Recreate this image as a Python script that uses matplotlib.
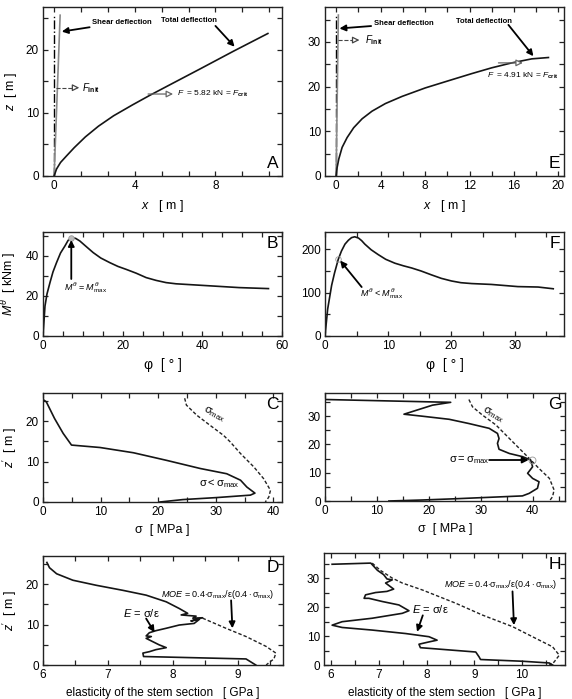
import matplotlib
matplotlib.use('Agg')
import matplotlib.pyplot as plt
from matplotlib.ticker import MultipleLocator

plt.rcParams['font.family'] = ['Liberation Sans', 'DejaVu Sans']
plt.rcParams['mathtext.fontset'] = 'custom'
plt.rcParams['mathtext.rm'] = 'Liberation Sans'
plt.rcParams['mathtext.it'] = 'Liberation Sans:italic'
plt.rcParams['mathtext.bf'] = 'Liberation Sans:bold'

# ---- data ----
# A: tree 1 deflection
A_x_total = [0, 0.12, 0.32, 0.62, 1.0, 1.55, 2.2, 2.95, 3.9, 4.75, 5.85, 7.25, 8.9, 10.6]
A_z_total = [0, 1.1, 2.15, 3.2, 4.5, 6.2, 7.9, 9.55, 11.3, 12.8, 14.65, 17.0, 19.8, 22.6]
A_x_shear = [0, 0.3]
A_z_shear = [0, 25.5]
A_x_init = [0, 0]
A_z_init = [0, 25.5]

# E: tree 2 deflection
E_x_total = [0, 0.09, 0.24, 0.54, 0.99, 1.58, 2.34, 3.23, 4.43, 5.93, 8.02, 10.1, 12.2, 14.0, 15.8, 17.6, 19.1]
E_z_total = [0, 1.9, 3.8, 6.4, 8.6, 10.8, 12.8, 14.5, 16.2, 17.8, 19.7, 21.3, 22.9, 24.2, 25.3, 26.2, 26.5]
E_x_shear = [0, 0.2]
E_z_shear = [0, 36]
E_x_init = [0, 0]
E_z_init = [0, 36]

# B, F: base moment vs. angle
B_phi = [0, 0.5, 1.0, 1.75, 2.5, 3.4, 4.4, 5.5, 6.3, 7.2, 8.2, 9.25, 10.8, 12.6, 14.5, 16.75,
         18.8, 20.9, 23.4, 25.9, 28.4, 30.9, 33.4, 35.9, 42.6, 49.25, 56.6]
B_M = [0, 15, 21, 26.7, 32, 36.7, 41.5, 45, 47.8, 49.2, 48.8, 47.5, 44.8, 41.7, 39, 36.7,
       34.8, 33.3, 31.4, 29.2, 27.8, 26.7, 26.1, 25.8, 25, 24.2, 23.7]
F_phi = [0, 0.42, 1.05, 1.5, 2.1, 2.6, 3.16, 3.7, 4.2, 4.7, 5.3, 5.8, 6.3, 7.3, 8.4, 9.6, 11.05,
         12.4, 13.7, 15.2, 16.85, 18.4, 20, 21.5, 23.2, 26.3, 30.5, 33.7, 36.1]
F_M = [0, 62, 117, 145, 177, 196, 212, 221, 227, 229, 226, 220, 212, 199, 188, 177, 168,
       162, 157, 150, 141, 133, 127, 123, 121, 119, 114, 113, 109]

# C, G: stress along the stem
C_sig = [0, 0.58, 2.0, 3.5, 4.95, 9.9, 15.7, 21.5, 27.3, 31.9, 34.3, 35.4, 36.8, 36.0, 30.2, 24.3, 20.3]
C_z = [25.4, 24.8, 20.7, 17.0, 14.1, 13.5, 12.2, 10.3, 8.3, 7.0, 5.4, 3.7, 2.2, 1.7, 1.1, 0.6, 0.0]
C_sigmax = [24.6, 24.9, 26.7, 29.0, 31.35, 32.5, 34.3, 36.6, 38.3, 39.5, 39.2, 38.6]
C_zmax = [25.7, 24.0, 21.5, 19.0, 16.5, 14.9, 12.0, 8.7, 5.8, 2.9, 1.2, 0]

G_sig = [0, 24.2, 20.7, 15.2, 18.7, 23.9, 27.7, 31.6, 33.2, 33.5, 33.2, 33.5, 35.5, 38.0, 39.6,
         39.96, 39.0, 39.96, 41.2, 40.9, 39.3, 38.0, 31.6, 25.2, 18.7, 12.3]
G_z = [35.9, 34.9, 33.9, 30.7, 30.0, 28.9, 27.4, 25.7, 23.9, 22.1, 20.4, 18.3, 16.8, 15.7, 14.5,
       12.1, 9.8, 8.0, 6.8, 4.5, 2.7, 1.8, 1.3, 0.8, 0.35, 0]
G_sigmax = [27.7, 28.4, 30.3, 32.9, 35.5, 37.4, 39.3, 41.2, 43.2, 44.1, 43.8, 43.2]
G_zmax = [35.9, 33.3, 30.4, 26.9, 22.1, 18.6, 15.1, 11.5, 8.0, 3.9, 1.5, 0]

# D, H: elasticity along the stem
D_E = [6.06, 6.10, 6.21, 6.46, 6.82, 7.23, 7.59, 7.90, 8.10, 8.23, 8.13, 8.36, 8.31, 8.46, 8.28, 8.41,
       8.33, 8.10, 7.90, 7.74, 7.64, 7.59, 7.67, 7.59, 7.69, 7.79, 7.90, 7.74, 7.64, 7.54, 7.55, 9.13, 9.23, 9.28]
D_z = [25.4, 24.1, 22.6, 21.0, 19.75, 18.5, 17.3, 15.65, 14.0, 12.8, 12.4, 12.1, 11.6, 11.7, 10.9, 11.3,
       10.3, 9.9, 9.1, 8.5, 8.0, 7.2, 7.05, 6.6, 5.8, 5.0, 4.3, 3.8, 3.3, 2.95, 2.1, 1.5, 0.5, 0]
D_MOE = [8.46, 8.82, 9.13, 9.44, 9.59, 9.56, 9.49, 9.44]
D_zm = [11.6, 9.1, 7.05, 4.6, 2.95, 1.5, 0.66, 0]

H_E = [6.02, 6.83, 6.97, 7.10, 7.17, 7.28, 7.14, 7.31, 7.17, 6.93, 6.72, 6.69, 6.79, 7.07, 7.42, 7.63,
       7.49, 6.86, 6.23, 6.02, 6.23, 6.86, 7.56, 8.05, 8.22, 8.05, 7.84, 7.87, 8.26, 9.03, 9.10, 9.13,
       10.01, 10.57, 10.64]
H_z = [34.9, 35.3, 32.8, 31.3, 29.8, 29.5, 28.4, 26.3, 25.5, 25.1, 24.3, 23.1, 23.1, 22.0, 20.8, 18.8,
       17.9, 16.2, 15.0, 13.8, 13.0, 12.1, 10.9, 9.8, 8.6, 8.0, 7.2, 6.0, 5.5, 4.5, 2.8, 1.9,
       1.3, 0.7, 0]
H_MOE = [6.86, 7.03, 7.28, 7.49, 7.91, 8.61, 9.17, 9.80, 10.29, 10.64, 10.78, 10.67, 10.57]
H_zm = [35.3, 32.8, 30.1, 28.4, 26.0, 21.4, 17.3, 13.3, 9.2, 6.3, 3.4, 1.0, 0]

W, H = 572, 699
fig = plt.figure(figsize=(W / 100, H / 100), dpi=100)

def add(left, top, right, bottom):
    return fig.add_axes([left / W, 1 - bottom / H, (right - left) / W, (bottom - top) / H])

def style(ax, xlim, ylim, xmaj, xmin, ymaj, ymin, letter, bottom_letter=False):
    ax.set_xlim(xlim)
    ax.set_ylim(ylim)
    ax.xaxis.set_major_locator(MultipleLocator(xmaj))
    ax.xaxis.set_minor_locator(MultipleLocator(xmin))
    ax.yaxis.set_major_locator(MultipleLocator(ymaj))
    ax.yaxis.set_minor_locator(MultipleLocator(ymin))
    ax.tick_params(which='both', direction='in', top=True, right=True, length=3.5, width=0.9,
                   labelsize=8.5, pad=3, color='#222')
    for s in ax.spines.values():
        s.set_linewidth(1.0)
        s.set_color('#222')
    if bottom_letter:
        ax.text(0.985, 0.03, letter, transform=ax.transAxes, ha='right', va='bottom', fontsize=12.5)
    else:
        ax.text(0.985, 0.96, letter, transform=ax.transAxes, ha='right', va='top', fontsize=12.5)
    hpx = ax.get_position().height * H
    ax.xaxis.set_label_coords(0.5, -22 / hpx)
    ax.yaxis.set_label_coords(-24 / 239, 0.5)

lk = dict(color='#151515', lw=1.2)
arr = dict(arrowstyle='-|>', color='k', lw=1.3, mutation_scale=9, shrinkA=0, shrinkB=0)
open_arr = dict(arrowstyle='-|>', ec='#666', fc='white', lw=0.9, mutation_scale=10, shrinkA=0, shrinkB=0)

# ---- A ----
axA = add(43, 7, 282, 176)
axA.plot(A_x_init, A_z_init, color='k', lw=1.0, ls='-.')
axA.plot(A_x_shear, A_z_shear, color='#8a8a8a', lw=1.2)
axA.plot(A_x_total, A_z_total, **lk)
axA.annotate('Shear deflection', xy=(0.38, 22.9), xytext=(1.9, 24.4), fontsize=5.5, fontweight='bold',
             va='center', arrowprops=arr)
axA.text(5.3, 24.6, 'Total deflection', fontsize=5.5, fontweight='bold', va='center')
axA.annotate('', xy=(8.95, 20.5), xytext=(8.0, 23.8), arrowprops=arr)
axA.plot([0.1, 1.0], [14, 14], color='#444', lw=0.8, ls='--')
axA.annotate('', xy=(1.25, 14), xytext=(0.95, 14), arrowprops=dict(open_arr, ec='#444'))
axA.text(1.4, 14, r'$F_{\mathbf{init}}$', fontsize=7, va='center')
axA.annotate('', xy=(5.9, 13.0), xytext=(4.66, 13.0), arrowprops=open_arr)
axA.text(6.1, 13.0, r'$F$  = 5.82 kN = $F_{\mathbf{crit}}$', fontsize=6, va='center')
style(axA, (-0.55, 11.3), (0, 26.8), 4, 4 / 3, 10, 5, 'A', bottom_letter=True)
axA.set_xlabel(r'$x$   [ m ]', fontsize=9)
axA.set_ylabel(r'$z$  [ m ]', fontsize=9)

# ---- E ----
axE = add(325, 7, 564, 176)
axE.plot(E_x_init, E_z_init, color='k', lw=1.0, ls='-.')
axE.plot(E_x_shear, E_z_shear, color='#8a8a8a', lw=1.2)
axE.plot(E_x_total, E_z_total, **lk)
axE.annotate('Shear deflection', xy=(0.3, 33.0), xytext=(3.4, 34.1), fontsize=5.5, fontweight='bold',
             va='center', arrowprops=arr)
axE.text(10.8, 34.5, 'Total deflection', fontsize=5.5, fontweight='bold', va='center')
axE.annotate('', xy=(17.75, 26.8), xytext=(15.5, 33.8), arrowprops=arr)
axE.plot([0.2, 1.6], [30.4, 30.4], color='#444', lw=0.8, ls='--')
axE.annotate('', xy=(2.1, 30.4), xytext=(1.5, 30.4), arrowprops=dict(open_arr, ec='#444'))
axE.text(2.6, 30.4, r'$F_{\mathbf{init}}$', fontsize=7, va='center')
axE.annotate('', xy=(16.8, 25.3), xytext=(14.6, 25.3), arrowprops=open_arr)
axE.text(13.6, 22.4, r'$F$  = 4.91 kN = $F_{\mathbf{crit}}$', fontsize=6, va='center')
style(axE, (-1.0, 20.5), (0, 37.8), 4, 2, 10, 5, 'E', bottom_letter=True)
axE.set_xlabel(r'$x$   [ m ]', fontsize=9)

# ---- B ----
axB = add(43, 232, 282, 336)
axB.plot(B_phi, B_M, **lk)
axB.plot([7.0], [49.2], 'o', ms=4, mfc='#bbb', mec='#999', mew=0.6)
axB.annotate('', xy=(7.1, 48.0), xytext=(7.1, 28.5), arrowprops=arr)
axB.text(10.7, 24.2, r'$M^{\theta}$ = $M^{\theta}_{\mathrm{max}}$', fontsize=6.5, ha='center', va='center')
style(axB, (0, 60), (0, 52), 20, 5, 20, 10, 'B')
axB.set_xlabel('φ  [ ° ]', fontsize=10)
axB.set_ylabel(r'$M^{\theta}$  [ kNm ]', fontsize=9)

# ---- F ----
axF = add(325, 232, 564, 336)
axF.plot(F_phi, F_M, **lk)
axF.plot([2.1], [177], 'o', ms=4, mfc='none', mec='#999', mew=0.6)
axF.annotate('', xy=(2.4, 174), xytext=(5.8, 113), arrowprops=arr)
axF.text(9.0, 99, r'$M^{\theta}$ < $M^{\theta}_{\mathrm{max}}$', fontsize=6.5, ha='center', va='center')
style(axF, (0, 37.8), (0, 240), 10, 5, 100, 50, 'F')
axF.set_xlabel('φ  [ ° ]', fontsize=10)

# ---- C ----
axC = add(43, 393, 282, 502)
axC.plot(C_sigmax, C_zmax, color='#222', lw=1.0, ls=(0, (2.5, 1.5)))
axC.plot(C_sig, C_z, **lk)
axC.text(29.7, 21.8, r'$\mathrm{\sigma}_{\mathrm{max}}$', fontsize=8, rotation=-28, ha='center', va='center')
axC.text(30.6, 4.6, r'$\mathrm{\sigma} < \mathrm{\sigma}_{\mathrm{max}}$', fontsize=8, ha='center', va='center')
style(axC, (0, 41.5), (0, 27), 10, 5, 10, 5, 'C')
axC.set_xlabel('σ  [ MPa ]', fontsize=9)
axC.set_ylabel(r"$z'$  [ m ]", fontsize=9)

# ---- G ----
axG = add(325, 393, 565, 501)
axG.plot(G_sigmax, G_zmax, color='#222', lw=1.0, ls=(0, (2.5, 1.5)))
axG.plot(G_sig, G_z, **lk)
axG.plot([39.8], [14.5], 'o', ms=5, mfc='none', mec='#999', mew=0.6)
axG.annotate('', xy=(39.2, 14.5), xytext=(31.6, 14.5), arrowprops=arr)
axG.text(27.8, 14.5, r'$\mathrm{\sigma} = \mathrm{\sigma}_{\mathrm{max}}$', fontsize=8, ha='center', va='center')
axG.text(32.3, 30.6, r'$\mathrm{\sigma}_{\mathrm{max}}$', fontsize=8, rotation=-30, ha='center', va='center')
style(axG, (0, 46.2), (0, 38.2), 10, 5, 10, 5, 'G')
axG.set_xlabel('σ  [ MPa ]', fontsize=9)

# ---- D ----
moe = r'$\mathit{MOE}$ = 0.4$\cdot\mathrm{\sigma}_{\mathrm{max}}/\mathrm{\varepsilon}(0.4\cdot\mathrm{\sigma}_{\mathrm{max}})$'
eq = r'$\mathit{E}$ = $\mathrm{\sigma}/\mathrm{\varepsilon}$'
axD = add(43, 556, 283, 665)
axD.plot(D_MOE, D_zm, color='#222', lw=1.0, ls=(0, (2.5, 1.5)))
axD.plot(D_E, D_z, **lk)
axD.text(8.69, 17.5, moe, fontsize=6.5, ha='center', va='center')
axD.annotate('', xy=(8.92, 9.1), xytext=(8.9, 16.0), arrowprops=arr)
axD.text(7.52, 12.9, eq, fontsize=8, ha='center', va='center')
axD.annotate('', xy=(7.72, 8.1), xytext=(7.59, 11.5), arrowprops=arr)
style(axD, (6, 9.7), (0, 27), 1, 0.5, 10, 5, 'D')
axD.set_xlabel('elasticity of the stem section   [ GPa ]', fontsize=8.5)
axD.set_ylabel(r"$z'$  [ m ]", fontsize=9)

# ---- H ----
axH = add(324, 553, 565, 665)
axH.plot(H_MOE, H_zm, color='#222', lw=1.0, ls=(0, (2.5, 1.5)))
axH.plot(H_E, H_z, **lk)
axH.text(9.55, 27.8, moe, fontsize=6.5, ha='center', va='center')
axH.annotate('', xy=(9.83, 13.8), xytext=(9.8, 25.5), arrowprops=arr)
axH.text(8.08, 19.3, eq, fontsize=8, ha='center', va='center')
axH.annotate('', xy=(7.8, 11.5), xytext=(7.92, 17.2), arrowprops=arr)
style(axH, (5.85, 10.9), (0, 38.8), 1, 0.5, 10, 5, 'H')
axH.set_xlabel('elasticity of the stem section   [ GPa ]', fontsize=8.5)

fig.savefig('out.png', dpi=100)
